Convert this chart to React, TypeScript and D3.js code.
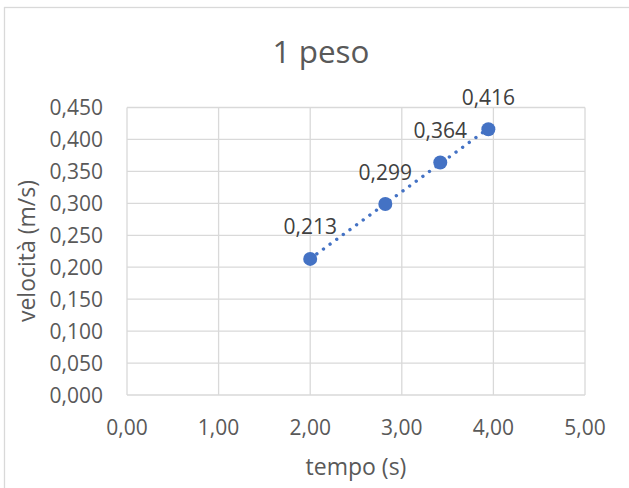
import React from "react";
import * as d3 from "d3";

const title = "1 peso";
const xTitle = "tempo (s)";
const yTitle = "velocità (m/s)";
const tempo = [2.0, 2.82, 3.42, 3.945];
const velocita = [0.213, 0.299, 0.364, 0.416];
const xTicks = [0, 1, 2, 3, 4, 5];
const yTicks = [0, 0.05, 0.1, 0.15, 0.2, 0.25, 0.3, 0.35, 0.4, 0.45];

const W = 629;
const H = 488;
const FONT = "'Open Sans', sans-serif";
const TEXT = "#595959";
const GRID = "#D9D9D9";
const BLUE = "#4472C4";

const fmt = (v: number, d: number) => v.toFixed(d).replace(".", ",");

export default function App() {
  const x = d3.scaleLinear().domain([0, 5]).range([127, 585]);
  const y = d3.scaleLinear().domain([0, 0.45]).range([395, 107.5]);

  // linear trendline (least squares) from the data
  const n = tempo.length;
  const mx = d3.mean(tempo) as number;
  const my = d3.mean(velocita) as number;
  let sxy = 0,
    sxx = 0;
  for (let i = 0; i < n; i++) {
    sxy += (tempo[i] - mx) * (velocita[i] - my);
    sxx += (tempo[i] - mx) ** 2;
  }
  const slope = sxy / sxx;
  const intercept = my - slope * mx;
  const x0 = d3.min(tempo) as number;
  const x1 = d3.max(tempo) as number;
  const trend = d3
    .line<number>()
    .x((t) => x(t))
    .y((t) => y(intercept + slope * t))([x0, x1]);

  return (
    <svg
      width={W}
      height={H}
      style={{ position: "absolute", left: 0, top: 0, background: "#fff" }}
      fontFamily={FONT}
    >
      <rect x={0} y={0} width={W} height={H} fill="#fff" />
      <rect x={4.5} y={7.5} width={634} height={520} fill="#fff" stroke={GRID} strokeWidth={1.3} />
      <text x={321} y={63} textAnchor="middle" fontSize={31.4} fill={TEXT}>
        {title}
      </text>
      {/* gridlines */}
      {yTicks.map((t) => (
        <line key={"gy" + t} x1={x(0)} x2={x(5)} y1={y(t)} y2={y(t)} stroke={GRID} strokeWidth={1.3} />
      ))}
      {xTicks.map((t) => (
        <line key={"gx" + t} x1={x(t)} x2={x(t)} y1={y(0)} y2={y(0.45)} stroke={GRID} strokeWidth={1.3} />
      ))}
      {/* tick labels */}
      {yTicks.map((t) => (
        <text key={"ly" + t} x={103} y={y(t)} dy="0.36em" textAnchor="end" fontSize={21} fill={TEXT}>
          {fmt(t, 3)}
        </text>
      ))}
      {xTicks.map((t) => (
        <text key={"lx" + t} x={x(t)} y={427} dy="0.36em" textAnchor="middle" fontSize={21} fill={TEXT}>
          {fmt(t, 2)}
        </text>
      ))}
      {/* axis titles */}
      <text x={356} y={475} textAnchor="middle" fontSize={23} fill={TEXT}>
        {xTitle}
      </text>
      <text
        transform={`translate(35,251) rotate(-90)`}
        textAnchor="middle"
        fontSize={23}
        fill={TEXT}
      >
        {yTitle}
      </text>
      {/* trendline */}
      <path
        d={trend || ""}
        fill="none"
        stroke={BLUE}
        strokeWidth={3.4}
        strokeLinecap="round"
        strokeDasharray="0.01 8.2"
      />
      {/* points */}
      {tempo.map((t, i) => (
        <circle key={"p" + i} cx={x(t)} cy={y(velocita[i])} r={7} fill={BLUE} />
      ))}
      {/* data labels */}
      {tempo.map((t, i) => (
        <text
          key={"d" + i}
          x={x(t)}
          y={y(velocita[i]) - 32}
          dy="0.36em"
          textAnchor="middle"
          fontSize={21}
          fill="#404040"
        >
          {fmt(velocita[i], 3)}
        </text>
      ))}
    </svg>
  );
}
